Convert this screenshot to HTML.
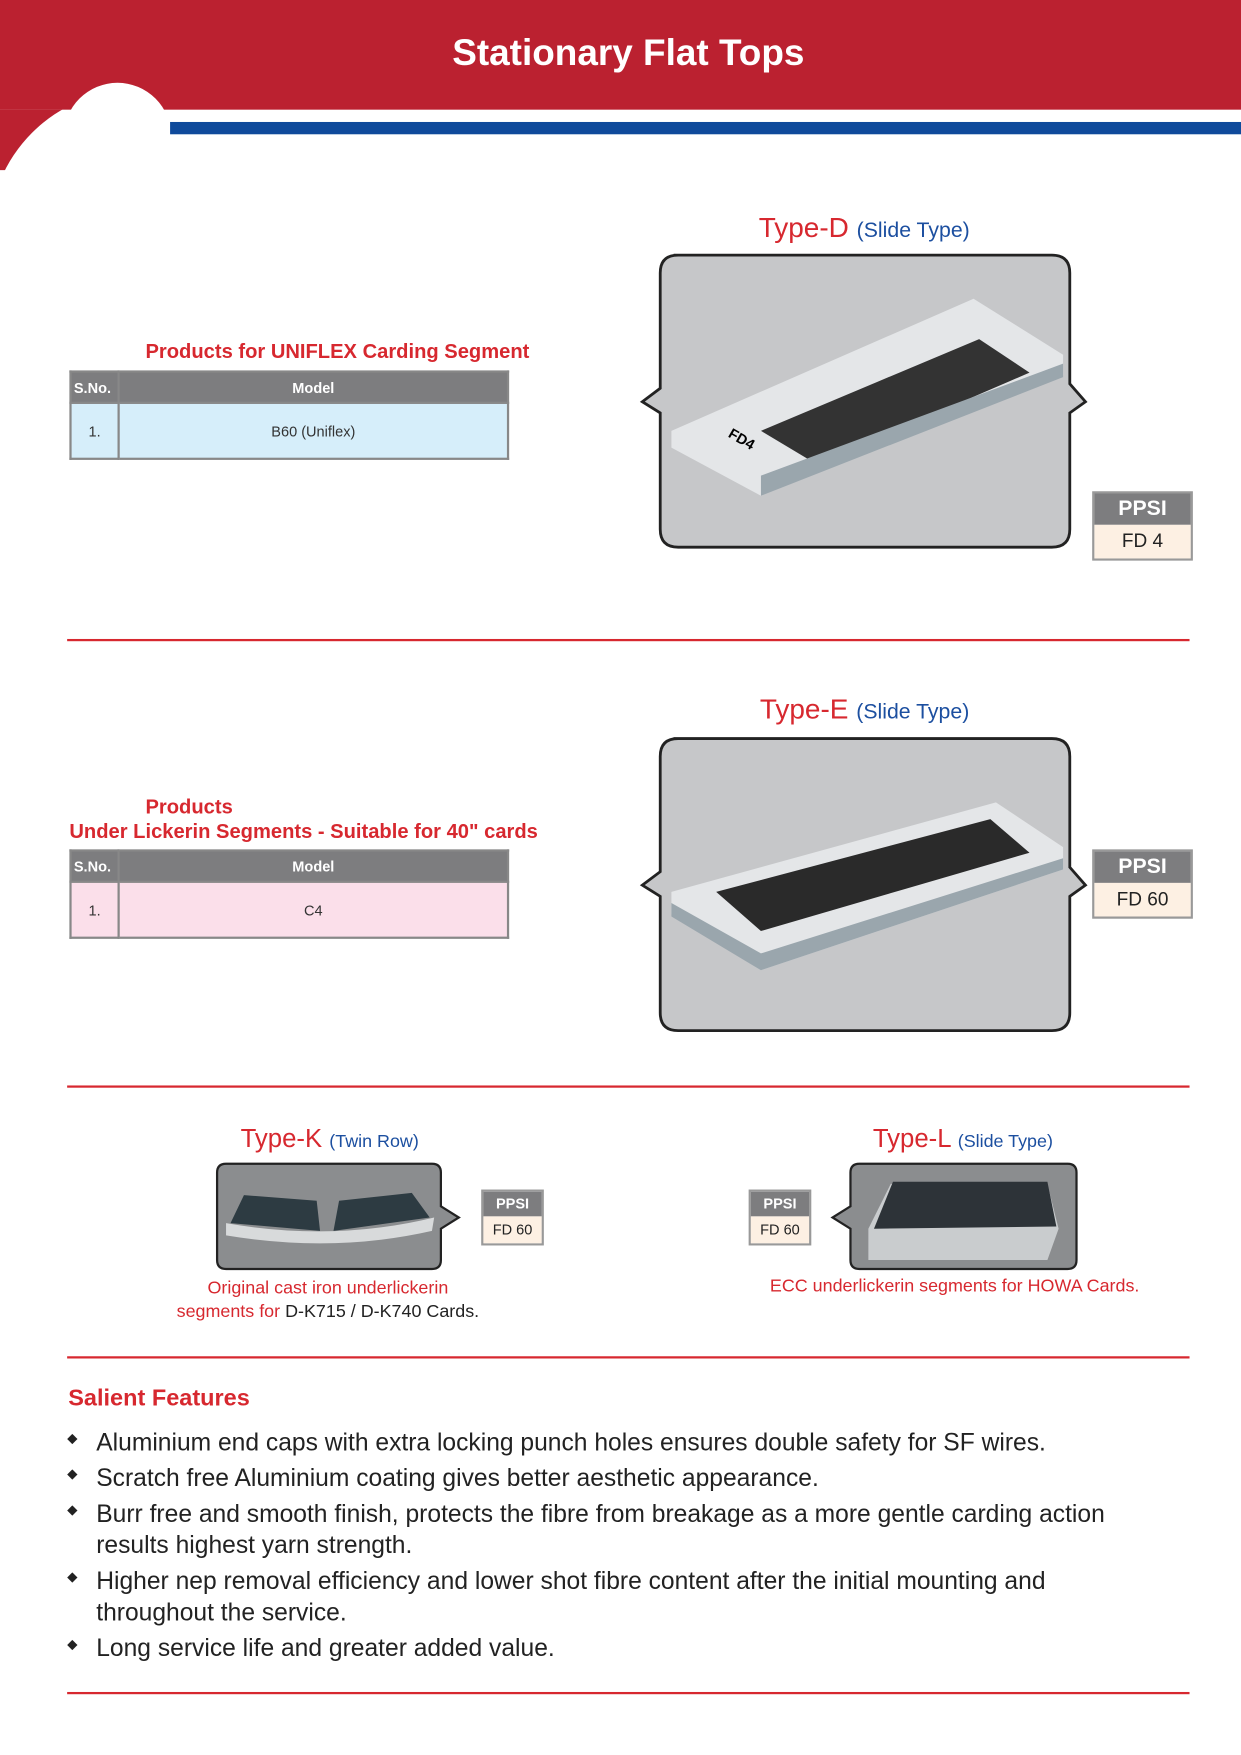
<!DOCTYPE html>
<html><head><meta charset="utf-8"><style>
html,body{margin:0;padding:0;background:#fff;width:1241px;height:1754px;overflow:hidden}
#w{position:absolute;left:0;top:0;width:1109px;height:1568px;transform:scale(1.11903);transform-origin:0 0;font-family:"Liberation Sans",sans-serif}
.a{position:absolute}
.red{color:#d7282f}.blue{color:#1c4fa0}
.hr{position:absolute;left:60px;width:1003px;height:2px;background:#d7282f}
table{border-collapse:collapse;position:absolute}
td{border:2px solid #888;font-size:13px;color:#333;text-align:center}
.th td{background:#7d7d7f;color:#fff;font-weight:bold;height:24px}
.pp{position:absolute;border:2px solid #999;text-align:center}
.pp .h{background:#7d7d7f;color:#fff;font-weight:bold}
.pp .b{background:#fdf0e3;color:#222}
ul{position:absolute;left:60px;top:1275px;width:950px;margin:0;padding:0;list-style:none;font-size:22px;color:#222;line-height:28px}
li{position:relative;padding-left:26px;margin-bottom:4px}
li:before{content:"◆";position:absolute;left:0;top:-4px;font-size:12px}
</style></head><body><div id="w">
<svg class="a" style="left:0;top:0" width="1109" height="200">
<path d="M0 98 H120 V152 H0 Z" fill="#bb2130"/>
<circle cx="122" cy="212" r="132" fill="#fff"/>
<rect x="0" y="0" width="1109" height="98" fill="#bb2130"/>
<circle cx="105" cy="122" r="48" fill="#fff"/>
<rect x="152" y="109" width="957" height="11" fill="#0f4a9b"/>
</svg>
<div class="a" style="left:0;width:1123px;top:28px;text-align:center;color:#fff;font-weight:bold;font-size:33px">Stationary Flat Tops</div>

<div class="a" style="left:678px;top:190px;font-size:25px"><span class="red">Type-D</span> <span class="blue" style="font-size:19px">(Slide Type)</span></div>
<div class="a red" style="left:130px;top:304px;font-weight:bold;font-size:18px">Products for UNIFLEX Carding Segment</div>
<table style="left:62px;top:331px;width:393px">
<tr class="th"><td style="width:38px;text-align:left;padding-left:2px">S.No.</td><td>Model</td></tr>
<tr><td style="background:#d6eefa;height:46px">1.</td><td style="background:#d6eefa">B60 (Uniflex)</td></tr></table>

<svg class="a" style="left:570px;top:225px" width="410" height="270">
<path d="M32 3 H370 Q386 3 386 19 V118 L400 134 L386 144 V248 Q386 264 370 264 H36 Q20 264 20 248 V144 L4 134 L20 122 V19 Q20 3 36 3 Z" fill="#c6c7c9" stroke="#222" stroke-width="2.5"/>
<polygon points="30,160 300,42 380,92 380,110 110,218 30,175" fill="#e4e6e8"/>
<polygon points="110,160 305,78 350,108 160,190" fill="#333"/>
<polygon points="110,200 380,100 380,112 110,218" fill="#9aa6ad"/>
<text x="80" y="165" font-size="13" font-weight="bold" transform="rotate(30 80 165)" font-family="Liberation Sans">FD4</text>
</svg>
<div class="pp" style="left:976px;top:439px;width:86px"><div class="h" style="font-size:19px;line-height:28px">PPSI</div><div class="b" style="font-size:17px;line-height:30px">FD 4</div></div>

<div class="hr" style="top:571px"></div>

<div class="a" style="left:679px;top:620px;font-size:25px"><span class="red">Type-E</span> <span class="blue" style="font-size:19px">(Slide Type)</span></div>
<div class="a red" style="left:130px;top:711px;font-weight:bold;font-size:18px">Products</div>
<div class="a red" style="left:62px;top:733px;font-weight:bold;font-size:18px">Under Lickerin Segments - Suitable for 40" cards</div>
<table style="left:62px;top:759px;width:393px">
<tr class="th"><td style="width:38px;text-align:left;padding-left:2px">S.No.</td><td>Model</td></tr>
<tr><td style="background:#fbdfea;height:46px">1.</td><td style="background:#fbdfea">C4</td></tr></table>

<svg class="a" style="left:570px;top:657px" width="410" height="270">
<path d="M32 3 H370 Q386 3 386 19 V118 L400 134 L386 144 V248 Q386 264 370 264 H36 Q20 264 20 248 V144 L4 134 L20 122 V19 Q20 3 36 3 Z" fill="#c6c7c9" stroke="#222" stroke-width="2.5"/>
<polygon points="30,140 320,60 380,100 380,120 110,210 30,160" fill="#e4e6e8"/>
<polygon points="70,140 315,75 350,105 110,175" fill="#2a2a2a"/>
<polygon points="30,150 110,195 380,110 380,120 110,210 30,162" fill="#9aa6ad"/>
</svg>
<div class="pp" style="left:976px;top:759px;width:86px"><div class="h" style="font-size:19px;line-height:28px">PPSI</div><div class="b" style="font-size:17px;line-height:30px">FD 60</div></div>

<div class="hr" style="top:970px"></div>

<div class="a" style="left:215px;top:1004px;font-size:23px"><span class="red">Type-K</span> <span class="blue" style="font-size:16px">(Twin Row)</span></div>
<svg class="a" style="left:188px;top:1038px" width="230" height="100">
<path d="M14 2 H198 Q206 2 206 10 V40 L222 50 L206 60 V88 Q206 96 198 96 H14 Q6 96 6 88 V10 Q6 2 14 2 Z" fill="#8b8d8f" stroke="#222" stroke-width="2"/>
<path d="M14 55 Q110 72 200 50 L198 62 Q110 82 14 66 Z" fill="#d8dadb"/>
<path d="M18 55 L30 30 L95 35 L98 62 Z M110 62 L115 35 L180 28 L196 50 Z" fill="#2d3b42"/>
</svg>
<div class="pp" style="left:430px;top:1063px;width:52px;font-size:13px"><div class="h" style="line-height:22px">PPSI</div><div class="b" style="line-height:24px">FD 60</div></div>
<div class="a red" style="left:118px;width:350px;top:1141px;text-align:center;font-size:16px;line-height:21px">Original cast iron underlickerin<br>segments for <span style="color:#222">D-K715 / D-K740 Cards.</span></div>

<div class="a" style="left:780px;top:1004px;font-size:23px"><span class="red">Type-L</span> <span class="blue" style="font-size:16px">(Slide Type)</span></div>
<svg class="a" style="left:736px;top:1038px" width="230" height="100">
<path d="M32 2 H218 Q226 2 226 10 V88 Q226 96 218 96 H32 Q24 96 24 88 V60 L8 50 L24 40 V10 Q24 2 32 2 Z" fill="#8b8d8f" stroke="#222" stroke-width="2"/>
<path d="M40 60 L60 20 L200 20 L210 60 L200 88 H40 Z" fill="#c9ccce"/>
<path d="M45 60 L62 18 L200 18 L208 58 Z" fill="#2d3338"/>
</svg>
<div class="pp" style="left:669px;top:1063px;width:52px;font-size:13px"><div class="h" style="line-height:22px">PPSI</div><div class="b" style="line-height:24px">FD 60</div></div>
<div class="a red" style="left:688px;top:1141px;font-size:16px">ECC underlickerin segments for HOWA Cards.</div>

<div class="hr" style="top:1212px"></div>
<div class="a red" style="left:61px;top:1238px;font-weight:bold;font-size:21px">Salient Features</div>
<ul>
<li>Aluminium end caps with extra locking punch holes ensures double safety for SF wires.</li>
<li>Scratch free Aluminium coating gives better aesthetic appearance.</li>
<li>Burr free and smooth finish, protects the fibre from breakage as a more gentle carding action results highest yarn strength.</li>
<li>Higher nep removal efficiency and lower shot fibre content after the initial mounting and throughout the service.</li>
<li>Long service life and greater added value.</li>
</ul>
<div class="hr" style="top:1512px"></div>
</div></body></html>
